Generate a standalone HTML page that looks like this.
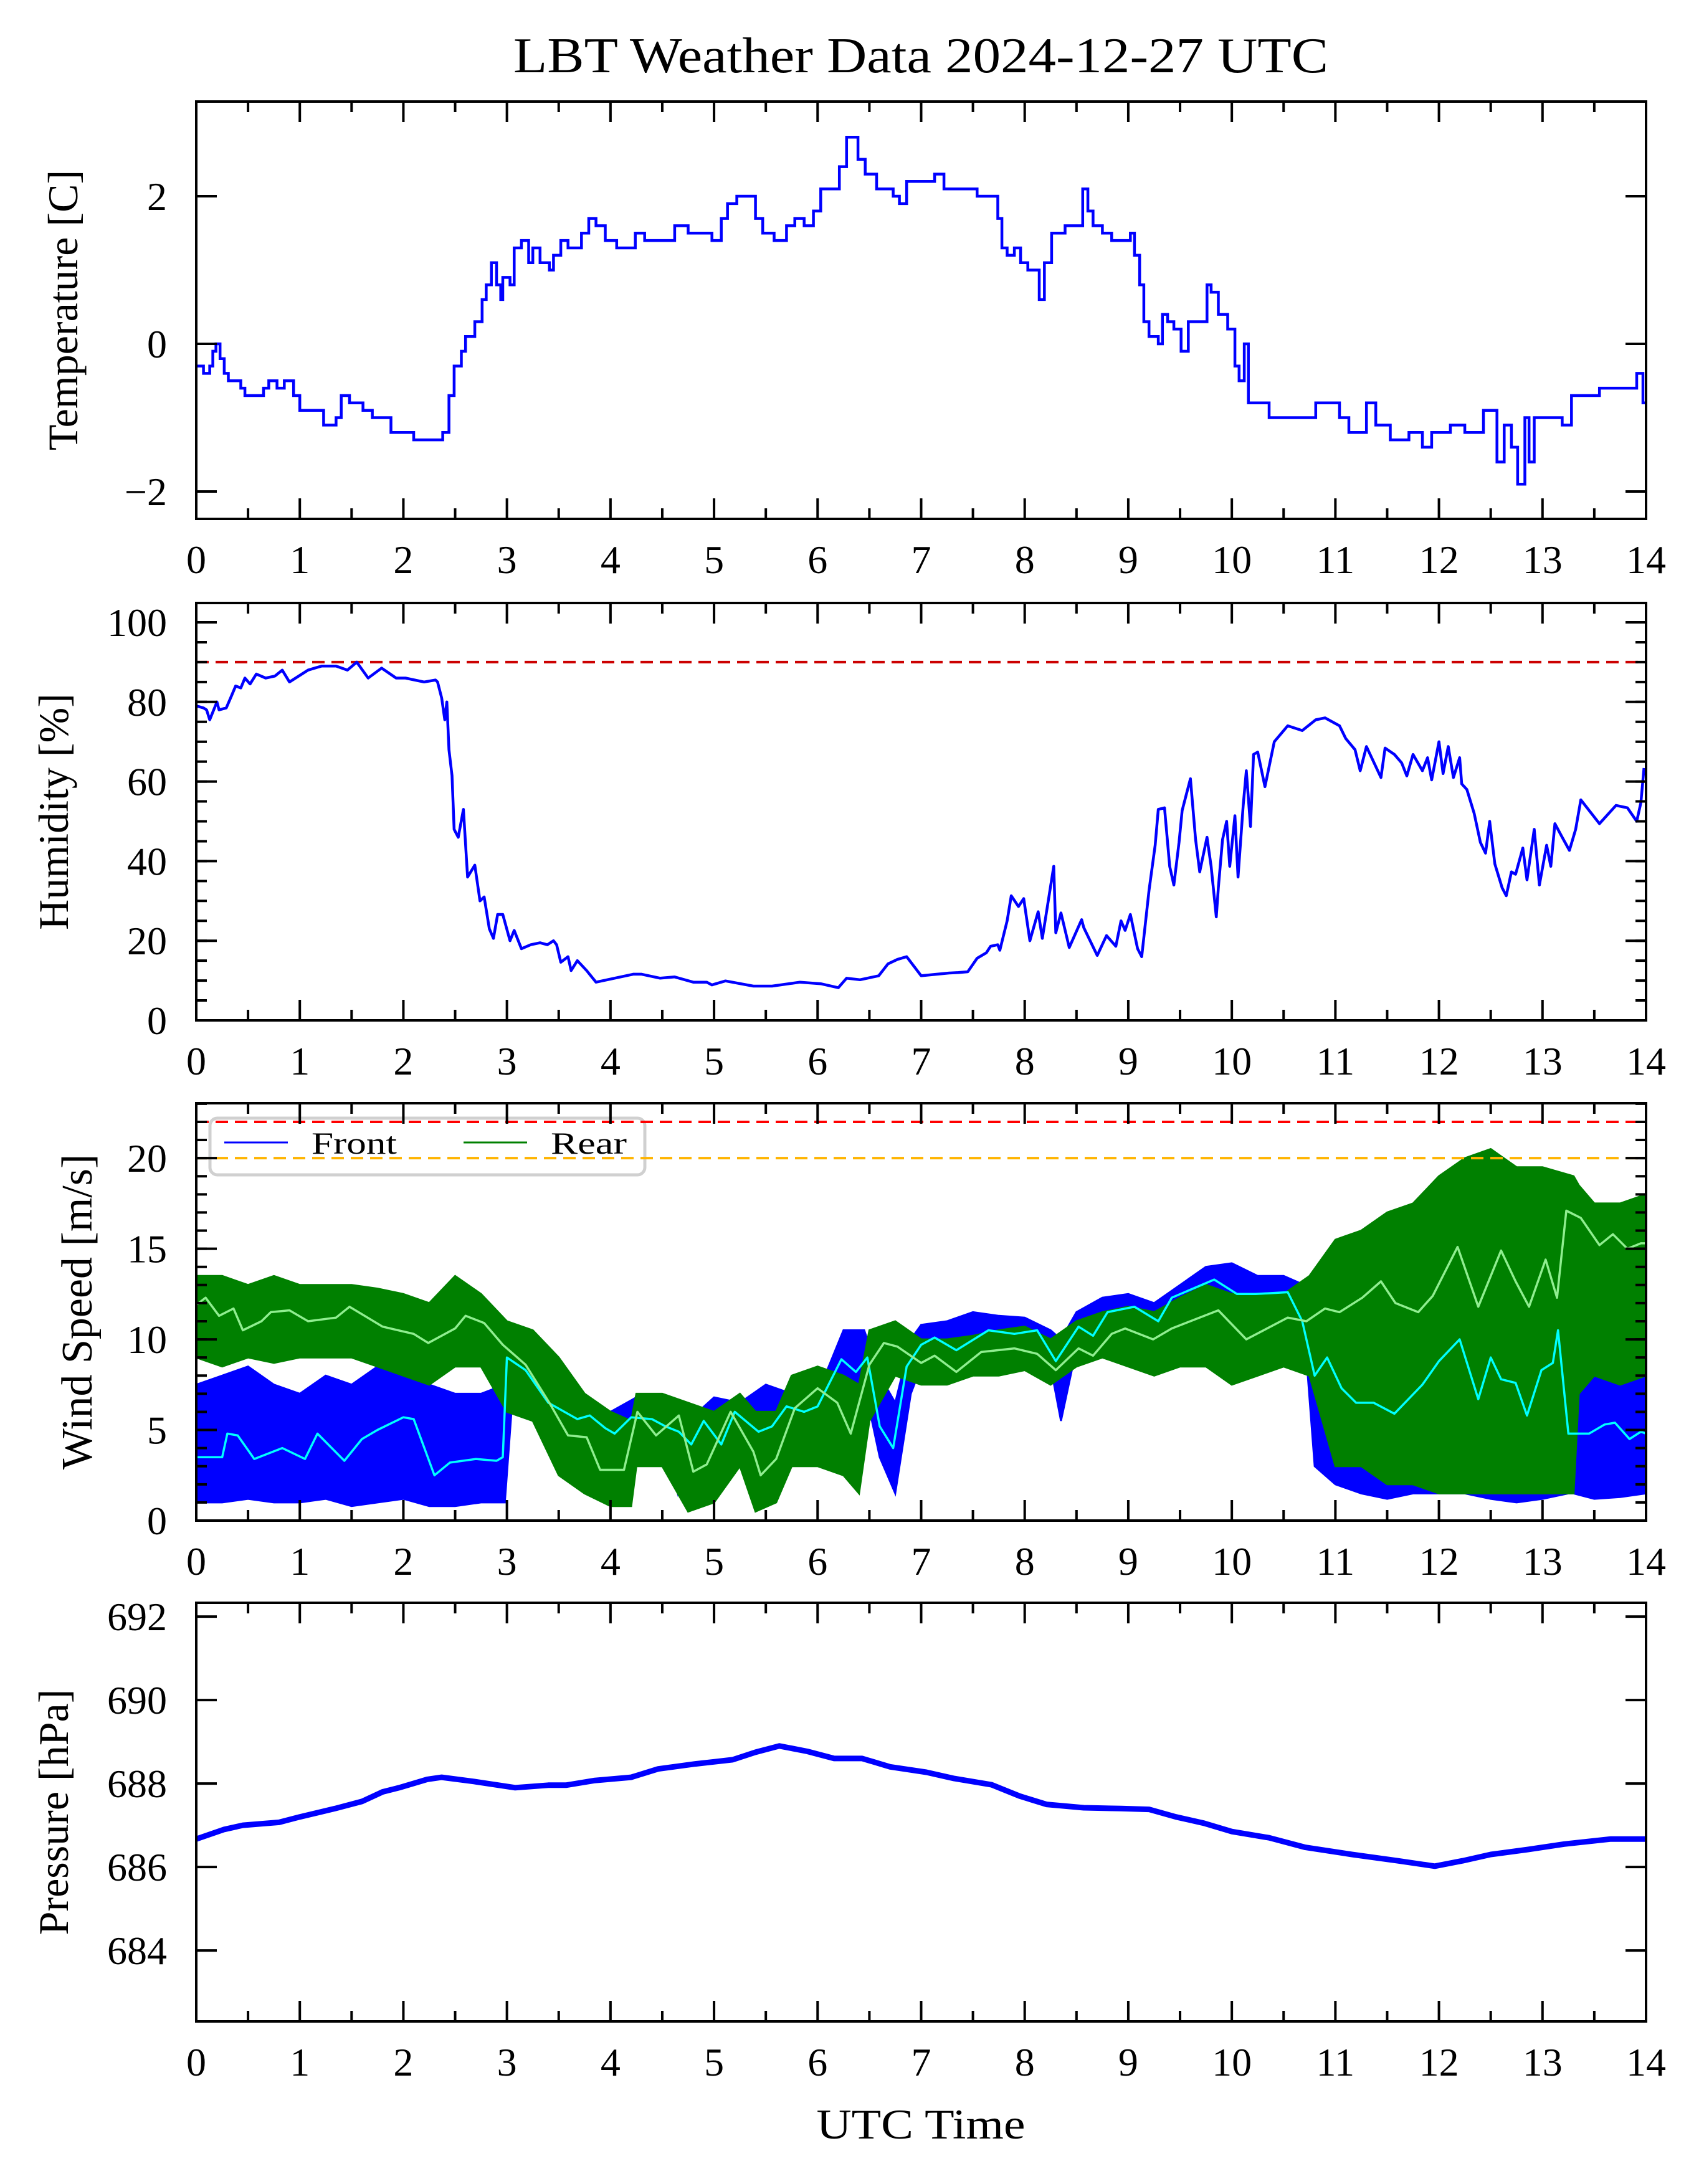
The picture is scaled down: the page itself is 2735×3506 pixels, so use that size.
<!DOCTYPE html>
<html><head><meta charset="utf-8"><title>LBT Weather Data</title>
<style>
html,body{margin:0;padding:0;background:#fff;}
svg{display:block;font-family:"Liberation Serif",serif;}
</style></head>
<body>
<svg id="chart" xmlns="http://www.w3.org/2000/svg" width="2735" height="3506" viewBox="0 0 2735 3506">
<rect x="0" y="0" width="2735" height="3506" fill="#fff"/>
<text x="1478" y="116" font-size="80" text-anchor="middle" textLength="1308" lengthAdjust="spacingAndGlyphs">LBT Weather Data 2024-12-27 UTC</text>
<text x="1478" y="3433" font-size="68" text-anchor="middle" textLength="335" lengthAdjust="spacingAndGlyphs">UTC Time</text>
<text transform="translate(124,498) rotate(-90)" font-size="68" text-anchor="middle">Temperature [C]</text>
<text transform="translate(109,1303) rotate(-90)" font-size="68" text-anchor="middle">Humidity [%]</text>
<text transform="translate(147,2106) rotate(-90)" font-size="70" text-anchor="middle">Wind Speed [m/s]</text>
<text transform="translate(109,2909) rotate(-90)" font-size="68" text-anchor="middle">Pressure [hPa]</text>
<g id="plots"></g>
</svg>
<script>
// ---------- data ----------
const tempTimes = [0,0.07,0.13,0.16,0.19,0.23,0.27,0.31,0.43,0.47,0.65,0.7,0.78,0.85,0.94,1.0,1.19,1.23,1.35,1.4,1.48,1.61,1.7,1.8,1.88,2.02,2.1,2.29,2.38,2.44,2.49,2.56,2.6,2.65,2.69,2.76,2.8,2.85,2.9,2.94,2.96,3.03,3.07,3.14,3.21,3.25,3.32,3.41,3.45,3.52,3.59,3.72,3.79,3.86,3.95,4.06,4.19,4.24,4.33,4.48,4.62,4.75,4.89,4.98,5.07,5.13,5.22,5.34,5.4,5.47,5.58,5.7,5.78,5.87,5.96,6.03,6.14,6.21,6.28,6.33,6.39,6.46,6.57,6.73,6.79,6.86,7.0,7.13,7.22,7.36,7.54,7.67,7.74,7.78,7.83,7.9,7.96,8.03,8.1,8.14,8.19,8.26,8.39,8.52,8.56,8.61,8.66,8.75,8.84,8.97,9.02,9.06,9.11,9.15,9.2,9.29,9.33,9.38,9.44,9.51,9.58,9.69,9.76,9.8,9.87,9.96,10.03,10.07,10.12,10.16,10.23,10.36,10.59,10.81,11.04,11.13,11.3,11.39,11.53,11.71,11.84,11.93,12.11,12.25,12.43,12.56,12.63,12.7,12.76,12.83,12.87,12.92,13.05,13.19,13.28,13.37,13.46,13.55,13.73,13.86,13.91,13.97,14.0];
const tempValues = [-0.3,-0.4,-0.3,-0.1,0.0,-0.2,-0.4,-0.5,-0.6,-0.7,-0.6,-0.5,-0.6,-0.5,-0.7,-0.9,-0.9,-1.1,-1.0,-0.7,-0.8,-0.9,-1.0,-1.0,-1.2,-1.2,-1.3,-1.3,-1.2,-0.7,-0.3,-0.1,0.1,0.1,0.3,0.6,0.8,1.1,0.8,0.6,0.9,0.8,1.3,1.4,1.1,1.3,1.1,1.0,1.2,1.4,1.3,1.5,1.7,1.6,1.4,1.3,1.3,1.5,1.4,1.4,1.6,1.5,1.5,1.4,1.7,1.9,2.0,2.0,1.7,1.5,1.4,1.6,1.7,1.6,1.8,2.1,2.1,2.4,2.8,2.8,2.5,2.3,2.1,2.0,1.9,2.2,2.2,2.3,2.1,2.1,2.0,2.0,1.7,1.3,1.2,1.3,1.1,1.0,1.0,0.6,1.1,1.5,1.6,1.6,2.1,1.8,1.6,1.5,1.4,1.4,1.5,1.2,0.8,0.3,0.1,0.0,0.4,0.3,0.2,-0.1,0.3,0.3,0.8,0.7,0.4,0.2,-0.3,-0.5,0.0,-0.8,-0.8,-1.0,-1.0,-0.8,-1.0,-1.2,-0.8,-1.1,-1.3,-1.2,-1.4,-1.2,-1.1,-1.2,-0.9,-1.6,-1.1,-1.4,-1.9,-1.0,-1.6,-1.0,-1.0,-1.1,-0.7,-0.7,-0.7,-0.6,-0.6,-0.6,-0.4,-0.8,-0.8];

const humTimes = [0,0.07,0.1,0.13,0.2,0.22,0.29,0.34,0.38,0.43,0.47,0.52,0.58,0.67,0.76,0.83,0.9,1.08,1.21,1.35,1.46,1.55,1.66,1.79,1.93,2.02,2.2,2.31,2.33,2.37,2.4,2.42,2.44,2.47,2.49,2.53,2.58,2.62,2.69,2.74,2.78,2.83,2.87,2.91,2.96,3.03,3.07,3.14,3.23,3.32,3.39,3.45,3.48,3.52,3.59,3.62,3.68,3.77,3.86,4.04,4.22,4.3,4.48,4.62,4.8,4.93,4.98,5.11,5.38,5.56,5.83,6.03,6.2,6.28,6.41,6.59,6.68,6.77,6.86,7.0,7.27,7.36,7.45,7.54,7.63,7.67,7.74,7.76,7.83,7.87,7.94,7.99,8.05,8.13,8.17,8.28,8.3,8.35,8.43,8.55,8.57,8.7,8.79,8.88,8.93,8.97,9.02,9.09,9.13,9.2,9.26,9.29,9.35,9.4,9.44,9.49,9.52,9.56,9.6,9.65,9.69,9.76,9.8,9.85,9.87,9.91,9.95,9.98,10.03,10.06,10.11,10.14,10.18,10.21,10.25,10.32,10.41,10.54,10.68,10.81,10.9,11.04,11.1,11.19,11.24,11.3,11.44,11.48,11.57,11.64,11.69,11.75,11.84,11.89,11.93,12.0,12.04,12.09,12.14,12.2,12.22,12.27,12.34,12.4,12.45,12.49,12.54,12.61,12.65,12.7,12.74,12.81,12.85,12.92,12.97,13.04,13.08,13.12,13.19,13.26,13.32,13.37,13.55,13.71,13.82,13.91,13.95,13.98];
const humValues = [79,78.5,78,75.5,80,78,78.5,81.5,84,83.5,86,84.5,87,86,86.5,88,85,88,89,89,88,90,86,88.5,86,86,85,85.5,85,81,75.5,80,68,61.5,48,46,53,36,39,30,31,23,20.6,26.6,26.6,20,22.6,18,19,19.5,19,20,19,14.6,16,12.5,15,12.5,9.6,10.6,11.6,11.6,10.6,10.9,9.6,9.6,8.9,9.9,8.6,8.6,9.6,9.2,8.2,10.6,10.2,11.2,14.2,15.3,16,11.2,11.9,12,12.2,15.6,17,18.6,19,17.6,25,31.3,28.6,30.6,20,27.3,20.6,38.7,22,27,18.3,25.3,23.3,16.3,21.3,18.6,25,22.6,26.6,18,16,32.6,44,53,53.4,38.7,34,44.7,52.7,56.7,60.7,45.4,37.3,46,38.7,26,33.3,45.4,50,38.7,51.4,36,54,62.7,48.7,66.8,67.4,58.7,70,74,72.8,75.5,76,74,70.8,68,62.7,68.8,61,68.4,66.8,64.7,61.4,66.8,62.7,66,60.4,70,62,68.8,61,66,59.4,58,52,44.7,42,50,39.3,33.3,31.3,37.3,36.7,43.3,35.3,48,34,44,38.7,49.4,46,42.7,48,55.4,49.4,54,53.4,50,54.7,63.4,52,55.4];

const windThreshRed = 22;
const windThreshOrange = 20;
const humThresh = 90;

const frontEnvTimes = [0,0.25,0.5,0.75,1.0,1.25,1.5,1.75,2.0,2.25,2.5,2.75,2.98,3.05,3.25,3.5,3.75,4.0,4.25,4.5,4.65,4.75,5.0,5.25,5.5,5.75,6.0,6.25,6.45,6.6,6.75,6.9,7.0,7.25,7.5,7.75,8.0,8.25,8.35,8.5,8.75,9.0,9.25,9.5,9.75,10.0,10.25,10.5,10.7,10.8,11.0,11.25,11.5,11.75,12.0,12.25,12.5,12.75,13.0,13.25,13.3,13.5,13.75,14.0];
const frontLow = [1.0,1.0,1.2,1.0,1.0,1.2,0.8,1.0,1.2,0.8,0.8,1.0,1.0,6.5,6.5,5.5,4.5,4.0,4.5,4.5,1.5,3.5,4.0,4.2,4.2,5.0,5.5,7.0,7.5,3.5,1.5,7.0,8.5,8.5,9.3,9.5,9.6,8.5,5.5,9.5,10.2,10.5,10.5,11.2,12.0,11.5,11.0,11.5,10.5,3.0,2.0,1.5,1.2,1.5,1.5,1.5,1.2,1.0,1.2,1.5,1.5,1.2,1.3,1.5];
const frontHigh = [7.5,8.0,8.5,7.5,7.0,8.0,7.5,8.5,9.5,7.5,7.0,7.0,7.5,10.0,9.5,8.0,6.8,6.0,6.8,6.5,6.0,5.5,6.8,6.5,7.5,7.0,7.0,10.5,10.5,8.0,6.5,10.0,10.8,11.0,11.5,11.3,11.2,10.5,10.0,11.5,12.3,12.5,12.0,13.0,14.0,14.2,13.5,13.5,13.0,11.0,11.0,11.0,10.0,10.0,12.0,13.0,12.0,11.0,13.0,13.0,11.0,9.0,9.0,10.0];

const rearEnvTimes = [0,0.25,0.5,0.75,1.0,1.25,1.5,1.75,2.0,2.25,2.5,2.75,3.0,3.25,3.5,3.75,4.0,4.2,4.25,4.5,4.75,5.0,5.25,5.4,5.6,5.75,6.0,6.25,6.4,6.5,6.75,7.0,7.25,7.5,7.75,8.0,8.25,8.5,8.75,9.0,9.25,9.5,9.75,10.0,10.25,10.5,10.75,11.0,11.25,11.5,11.75,12.0,12.25,12.5,12.75,13.0,13.3,13.35,13.5,13.75,14.0];
const rearLow = [9,8.5,9,8.7,9,9,9,8.5,8,7.5,8.5,8.5,6,5.5,2.5,1.5,0.8,0.8,3,3,0.5,1,3,0.5,1,3,3,2.5,1.5,5.5,8,7.5,7.5,8,8,8.3,7.5,8.5,9,8.5,8,8.5,8.5,7.5,8,8.5,8,3,3,2,2,1.5,1.5,1.5,1.5,1.5,1.5,7,8,7.5,8];
const rearHigh = [13.5,13.5,13,13.5,13,13,13,12.8,12.5,12,13.5,12.5,11,10.5,9,7,6,5.5,7,7,6.5,6,7,6,6,8,8.5,8,7.5,10.5,11,10,10,10.2,10.5,10.7,10,11,11.5,11.8,11.5,12.3,13,12.5,12.5,12.5,13.5,15.5,16,17,17.5,19,20,20.5,19.5,19.5,19,18.5,17.5,17.5,18];

const frontSmoothTimes = [0,0.25,0.3,0.4,0.56,0.83,1.05,1.17,1.43,1.6,1.75,2.0,2.1,2.3,2.45,2.7,2.9,2.96,3.0,3.18,3.4,3.68,3.8,3.95,4.04,4.2,4.4,4.53,4.66,4.78,4.9,5.07,5.2,5.43,5.56,5.7,5.87,6.0,6.23,6.37,6.48,6.6,6.73,6.86,7.0,7.13,7.34,7.65,7.9,8.12,8.3,8.52,8.66,8.8,9.06,9.29,9.42,9.83,10.05,10.23,10.54,10.68,10.8,10.92,11.06,11.2,11.37,11.57,11.84,12.0,12.2,12.38,12.5,12.6,12.74,12.85,12.99,13.1,13.15,13.25,13.45,13.6,13.7,13.84,13.95,14.0];
const frontSmooth = [3.5,3.5,4.8,4.7,3.4,4.0,3.4,4.8,3.3,4.5,5.0,5.7,5.6,2.5,3.2,3.4,3.3,3.5,9.0,8.3,6.5,5.6,5.8,5.1,4.8,5.7,5.6,5.2,4.9,4.2,5.5,4.2,6.0,4.9,5.2,6.3,6.0,6.3,8.9,8.2,9.0,5.2,4.0,8.5,9.7,10.1,9.4,10.5,10.3,10.5,8.8,10.7,10.2,11.5,11.8,11.0,12.3,13.3,12.5,12.5,12.6,11.0,8.0,9.0,7.3,6.5,6.5,5.9,7.5,8.8,10.0,6.7,9.0,7.8,7.6,5.8,8.3,8.7,10.5,4.8,4.8,5.3,5.4,4.5,4.9,4.8];

const rearSmoothTimes = [0,0.09,0.22,0.36,0.45,0.63,0.72,0.9,1.08,1.35,1.48,1.8,2.1,2.24,2.5,2.6,2.78,2.96,3.18,3.41,3.59,3.77,3.9,4.13,4.26,4.44,4.66,4.8,4.93,5.16,5.38,5.45,5.6,5.78,6.0,6.19,6.32,6.5,6.64,6.77,7.0,7.13,7.34,7.58,7.9,8.12,8.3,8.52,8.66,8.84,8.97,9.24,9.42,9.87,10.14,10.54,10.72,10.9,11.04,11.26,11.44,11.58,11.8,11.94,12.18,12.38,12.6,12.74,12.87,13.03,13.14,13.23,13.37,13.55,13.68,13.82,13.95,14.0];
const rearSmooth = [11.9,12.3,11.3,11.7,10.5,11.0,11.5,11.6,11.0,11.2,11.8,10.7,10.3,9.8,10.6,11.3,10.9,9.7,8.6,6.5,4.7,4.6,2.8,2.8,6.0,4.7,5.8,2.7,3.1,6.0,3.8,2.5,3.4,6.2,7.3,6.5,4.8,8.6,9.8,9.6,8.7,9.1,8.2,9.3,9.5,9.2,8.3,9.5,9.1,10.3,10.6,10.0,10.6,11.6,10.0,11.2,11.0,11.7,11.5,12.3,13.2,12.0,11.5,12.4,15.1,11.8,14.9,13.2,11.8,14.4,12.3,17.1,16.7,15.2,15.8,15.0,15.3,15.3];

const presTimes = [0,0.27,0.45,0.8,1.0,1.34,1.6,1.8,1.96,2.23,2.37,2.68,3.08,3.4,3.57,3.84,4.2,4.46,4.82,5.18,5.4,5.63,5.9,6.16,6.43,6.7,7.05,7.32,7.68,7.95,8.21,8.57,8.93,9.2,9.46,9.73,10.0,10.36,10.71,11.16,11.6,11.96,12.23,12.5,12.86,13.21,13.66,14.0];
const presValues = [686.67,686.9,687.0,687.07,687.2,687.4,687.57,687.8,687.9,688.1,688.15,688.05,687.9,687.96,687.96,688.07,688.15,688.35,688.47,688.57,688.75,688.9,688.77,688.6,688.6,688.4,688.27,688.12,687.97,687.7,687.5,687.42,687.4,687.38,687.2,687.05,686.85,686.7,686.47,686.3,686.15,686.02,686.15,686.3,686.42,686.55,686.67,686.67];

const xTickLabels = ["0","1","2","3","4","5","6","7","8","9","10","11","12","13","14"];
const tempTickValues = [-2,0,2];
const humTickValues = [0,20,40,60,80,100];
const windTickValues = [0,5,10,15,20];
const presTickValues = [684,686,688,690,692];

// ---------- layout ----------
const NS = "http://www.w3.org/2000/svg";
const X0 = 315, X1 = 2642, TMAX = 14;
const xs = t => X0 + (t / TMAX) * (X1 - X0);
const panels = {
  temp: {top:163, bottom:833, ymin:-2.371, ymax:3.283, ticks:tempTickValues, minor:null},
  hum:  {top:968, bottom:1638, ymin:0, ymax:104.85, ticks:humTickValues, minor:5},
  wind: {top:1771, bottom:2441, ymin:0, ymax:23.03, ticks:windTickValues, minor:1},
  pres: {top:2573, bottom:3245, ymin:682.3, ymax:692.33, ticks:presTickValues, minor:null}
};
const ys = (p, v) => p.bottom - (v - p.ymin) / (p.ymax - p.ymin) * (p.bottom - p.top);
const root = document.getElementById('plots');

function mk(tag, attrs, parent) {
  const el = document.createElementNS(NS, tag);
  for (const k in attrs) el.setAttribute(k, attrs[k]);
  (parent || root).appendChild(el);
  return el;
}
function linePath(p, ts, vs) {
  let d = '';
  for (let i = 0; i < ts.length; i++) d += (i ? 'L' : 'M') + xs(ts[i]).toFixed(1) + ' ' + ys(p, vs[i]).toFixed(1);
  return d;
}
function stepPath(p, ts, vs) {
  let d = 'M' + xs(ts[0]).toFixed(1) + ' ' + ys(p, vs[0]).toFixed(1);
  for (let i = 1; i < ts.length; i++) {
    d += 'H' + xs(ts[i]).toFixed(1) + 'V' + ys(p, vs[i]).toFixed(1);
  }
  return d;
}
function bandPath(p, ts, lo, hi) {
  let d = '';
  for (let i = 0; i < ts.length; i++) d += (i ? 'L' : 'M') + xs(ts[i]).toFixed(1) + ' ' + ys(p, hi[i]).toFixed(1);
  for (let i = ts.length - 1; i >= 0; i--) d += 'L' + xs(ts[i]).toFixed(1) + ' ' + ys(p, lo[i]).toFixed(1);
  return d + 'Z';
}
function clipFor(key, p) {
  const defs = mk('defs', {});
  const cp = mk('clipPath', {id: 'clip-' + key}, defs);
  mk('rect', {x: X0, y: p.top, width: X1 - X0, height: p.bottom - p.top}, cp);
  const g = mk('g', {'clip-path': 'url(#clip-' + key + ')'});
  
  
  return g;
}
function axes(key, p) {
  const g = mk('g', {});
  
  
  for (let h = 0; h <= 28; h++) {
    const t = h / 2, x = xs(t), len = (h % 2 === 0) ? 33 : 17;
    const tb = mk('line', {x1: x, x2: x, y1: p.bottom, y2: p.bottom - len, stroke: '#000', 'stroke-width': 4}, g);
    
    
    const tt = mk('line', {x1: x, x2: x, y1: p.top, y2: p.top + len, stroke: '#000', 'stroke-width': 4}, g);
    
    
  }
  xTickLabels.forEach((lab, i) => {
    const tx = mk('text', {x: xs(i), y: p.bottom + 87, 'font-size': 64, 'text-anchor': 'middle'}, g);
    tx.textContent = lab;
    
    
  });
  if (p.minor) {
    for (let v = Math.ceil(p.ymin / p.minor) * p.minor; v <= p.ymax; v += p.minor) {
      const y = ys(p, v);
      const m1 = mk('line', {x1: X0, x2: X0 + 17, y1: y, y2: y, stroke: '#000', 'stroke-width': 4}, g);
      
      
      const m2 = mk('line', {x1: X1, x2: X1 - 17, y1: y, y2: y, stroke: '#000', 'stroke-width': 4}, g);
      
      
    }
  }
  p.ticks.forEach(v => {
    const y = ys(p, v);
    const a = mk('line', {x1: X0, x2: X0 + 33, y1: y, y2: y, stroke: '#000', 'stroke-width': 4}, g);
    
    
    const b = mk('line', {x1: X1, x2: X1 - 33, y1: y, y2: y, stroke: '#000', 'stroke-width': 4}, g);
    
    
    const tx = mk('text', {x: 268, y: y + 22, 'font-size': 64, 'text-anchor': 'end'}, g);
    tx.textContent = v < 0 ? '\u2212' + Math.abs(v) : String(v);
    
    
  });
  const fr = mk('rect', {x: X0, y: p.top, width: X1 - X0, height: p.bottom - p.top, fill: 'none', stroke: '#000', 'stroke-width': 4}, g);
  
  
}
function hline(g, p, v, color, name) {
  const l = mk('line', {x1: X0, x2: X1, y1: ys(p, v), y2: ys(p, v), stroke: color, 'stroke-width': 4, 'stroke-dasharray': '20 11'}, g);
  
  
}

// ---------- temperature ----------
(function () {
  const p = panels.temp, g = clipFor('temperature', p);
  const l = mk('path', {d: stepPath(p, tempTimes, tempValues), fill: 'none', stroke: '#0000ff', 'stroke-width': 4.5, 'stroke-linejoin': 'miter'}, g);
  
  
  axes('temperature', p);
})();
// ---------- humidity ----------
(function () {
  const p = panels.hum, g = clipFor('humidity', p);
  hline(g, p, humThresh, '#cc0000', 'humidity-threshold-line');
  const l = mk('path', {d: linePath(p, humTimes, humValues), fill: 'none', stroke: '#0000ff', 'stroke-width': 4.5, 'stroke-linejoin': 'round'}, g);
  
  
  axes('humidity', p);
})();
// ---------- wind ----------
(function () {
  const p = panels.wind, g = clipFor('wind', p);
  const fb = mk('path', {d: bandPath(p, frontEnvTimes, frontLow, frontHigh), fill: '#0000ff', stroke: '#0000ff', 'stroke-width': 3}, g);
  
  
  const rb = mk('path', {d: bandPath(p, rearEnvTimes, rearLow, rearHigh), fill: '#008000', stroke: '#008000', 'stroke-width': 3}, g);
  
  
  const fs = mk('path', {d: linePath(p, frontSmoothTimes, frontSmooth), fill: 'none', stroke: '#00ffff', 'stroke-width': 3.5, 'stroke-linejoin': 'round'}, g);
  
  
  const rs = mk('path', {d: linePath(p, rearSmoothTimes, rearSmooth), fill: 'none', stroke: '#90ee90', 'stroke-width': 3.5, 'stroke-linejoin': 'round'}, g);
  
  
  const lg = mk('g', {});
  
  
  const box = mk('rect', {x: 337, y: 1795, width: 698, height: 91, rx: 12, fill: 'rgba(255,255,255,0.8)', stroke: '#d0d0d0', 'stroke-width': 5}, lg);
  
  
  const l1 = mk('line', {x1: 360, x2: 462, y1: 1834, y2: 1834, stroke: '#0000ff', 'stroke-width': 3}, lg);
  
  
  const t1 = mk('text', {x: 500, y: 1852, 'font-size': 50, textLength: 137, lengthAdjust: 'spacingAndGlyphs'}, lg);
  t1.textContent = 'Front';
  
  
  const l2 = mk('line', {x1: 744, x2: 846, y1: 1834, y2: 1834, stroke: '#008000', 'stroke-width': 3}, lg);
  
  
  const t2 = mk('text', {x: 884, y: 1852, 'font-size': 50, textLength: 122, lengthAdjust: 'spacingAndGlyphs'}, lg);
  t2.textContent = 'Rear';
  
  
  const g2 = clipFor('wind-thresholds', p);
  hline(g2, p, windThreshRed, '#ff0000', 'wind-red-threshold-line');
  hline(g2, p, windThreshOrange, '#ffb400', 'wind-orange-threshold-line');
  axes('wind', p);
})();
// ---------- pressure ----------
(function () {
  const p = panels.pres, g = clipFor('pressure', p);
  const l = mk('path', {d: linePath(p, presTimes, presValues), fill: 'none', stroke: '#0000ff', 'stroke-width': 9, 'stroke-linejoin': 'round'}, g);
  
  
  axes('pressure', p);
})();
</script>
</body></html>
